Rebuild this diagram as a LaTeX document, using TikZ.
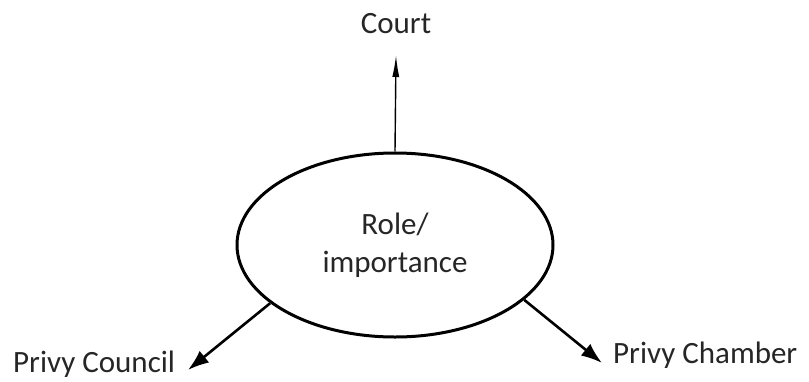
\documentclass[tikz,border=0pt]{standalone}
\usepackage{fontspec}
\setmainfont{Carlito}
\usetikzlibrary{shapes.geometric,arrows.meta}
\begin{document}
\begin{tikzpicture}[x=1pt,y=-1pt,
  lbl/.style={font=\fontsize{31}{38}\selectfont, text=black!85, inner sep=0pt},
  bubble/.style={draw, ellipse, line width=3pt, minimum width=316pt, minimum height=184pt, inner sep=0pt, align=center, font=\fontsize{31}{38}\selectfont, text=black!85},
  thinarrow/.style={line width=1.4pt, -{Latex[length=22pt,width=7pt]}},
  thickarrow/.style={line width=2.6pt, -{Latex[length=21pt,width=15pt]}}]
\useasboundingbox (0,0) rectangle (809,381);
\node[bubble] (e) at (395,245) {Role/\\importance};
\node[lbl, anchor=base] (court) at (396,33) {Court};
\node[lbl, anchor=base west] (pc) at (13,372) {Privy Council};
\node[lbl, anchor=base west] (pch) at (613,363) {Privy Chamber};
\coordinate (courtTip) at (396,55);
\coordinate (pcTip) at (188,370);
\coordinate (pchTip) at (602,363);
\draw[thinarrow] (e.north) -- (courtTip);
\draw[thickarrow] (e.205.3) -- (pcTip);
\draw[thickarrow] (e.-23.8) -- (pchTip);
\end{tikzpicture}
\end{document}
